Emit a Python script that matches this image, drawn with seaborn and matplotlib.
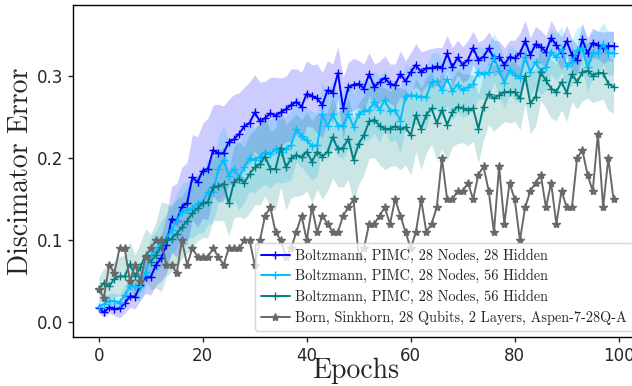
import matplotlib
matplotlib.use("Agg")
import matplotlib.pyplot as plt
import numpy as np
import seaborn as sns

# ─── Datos ───────────────────────────────────────────────────────────────────

EPOCHS = np.arange(100)

LABELS = [
    "Boltzmann, PIMC, 28 Nodes, 28 Hidden",
    "Boltzmann, PIMC, 28 Nodes, 56 Hidden",
    "Boltzmann, PIMC, 28 Nodes, 56 Hidden",
    "Born, Sinkhorn, 28 Qubits, 2 Layers, Aspen-7-28Q-A",
]
COLORS = ["#0000ff", "#00bfff", "#008080", "#696969"]

boltz_28h = [
    0.017, 0.012, 0.018, 0.016, 0.017, 0.023, 0.032, 0.031, 0.045, 0.055,
    0.055, 0.070, 0.078, 0.094, 0.126, 0.124, 0.141, 0.145, 0.177, 0.171,
    0.185, 0.187, 0.210, 0.206, 0.206, 0.220, 0.223, 0.230, 0.239, 0.243,
    0.256, 0.245, 0.249, 0.255, 0.252, 0.256, 0.260, 0.265, 0.269, 0.263,
    0.279, 0.276, 0.273, 0.265, 0.283, 0.280, 0.304, 0.261, 0.287, 0.290,
    0.291, 0.285, 0.303, 0.287, 0.293, 0.298, 0.291, 0.289, 0.303, 0.294,
    0.305, 0.314, 0.305, 0.310, 0.310, 0.312, 0.310, 0.328, 0.311, 0.323,
    0.314, 0.320, 0.335, 0.320, 0.324, 0.334, 0.322, 0.324, 0.314, 0.324,
    0.322, 0.328, 0.343, 0.326, 0.339, 0.336, 0.330, 0.347, 0.338, 0.328,
    0.343, 0.326, 0.320, 0.345, 0.328, 0.341, 0.338, 0.335, 0.337, 0.337,
]
boltz_28h_std = [
    0.006, 0.006, 0.007, 0.008, 0.012, 0.012, 0.014, 0.015, 0.018, 0.020,
    0.022, 0.025, 0.028, 0.035, 0.040, 0.045, 0.048, 0.050, 0.052, 0.055,
    0.058, 0.062, 0.055, 0.060, 0.058, 0.052, 0.055, 0.050, 0.048, 0.050,
    0.046, 0.048, 0.045, 0.044, 0.047, 0.042, 0.040, 0.044, 0.040, 0.042,
    0.040, 0.038, 0.042, 0.040, 0.036, 0.035, 0.032, 0.038, 0.030, 0.032,
    0.028, 0.030, 0.026, 0.028, 0.025, 0.027, 0.024, 0.026, 0.028, 0.025,
    0.024, 0.026, 0.025, 0.022, 0.024, 0.023, 0.025, 0.022, 0.024, 0.021,
    0.022, 0.024, 0.020, 0.022, 0.021, 0.020, 0.022, 0.019, 0.021, 0.020,
    0.022, 0.025, 0.025, 0.021, 0.022, 0.020, 0.019, 0.021, 0.018, 0.020,
    0.019, 0.020, 0.018, 0.020, 0.019, 0.018, 0.017, 0.019, 0.018, 0.018,
]

boltz_56h = [
    0.019, 0.022, 0.026, 0.026, 0.024, 0.033, 0.044, 0.044, 0.043, 0.061,
    0.082, 0.086, 0.096, 0.102, 0.112, 0.124, 0.135, 0.137, 0.139, 0.145,
    0.147, 0.159, 0.159, 0.187, 0.198, 0.179, 0.187, 0.177, 0.189, 0.200,
    0.198, 0.202, 0.208, 0.205, 0.211, 0.208, 0.211, 0.216, 0.236, 0.227,
    0.222, 0.215, 0.216, 0.254, 0.239, 0.254, 0.240, 0.240, 0.254, 0.238,
    0.254, 0.258, 0.259, 0.269, 0.259, 0.271, 0.258, 0.259, 0.246, 0.276,
    0.277, 0.276, 0.275, 0.275, 0.293, 0.294, 0.283, 0.297, 0.282, 0.290,
    0.283, 0.287, 0.291, 0.305, 0.303, 0.305, 0.323, 0.307, 0.292, 0.308,
    0.302, 0.298, 0.323, 0.305, 0.317, 0.307, 0.311, 0.330, 0.323, 0.333,
    0.313, 0.317, 0.332, 0.335, 0.311, 0.328, 0.328, 0.340, 0.328, 0.329,
]
boltz_56h_std = [
    0.008, 0.008, 0.009, 0.010, 0.010, 0.012, 0.014, 0.016, 0.018, 0.020,
    0.022, 0.025, 0.028, 0.030, 0.030, 0.032, 0.034, 0.035, 0.036, 0.036,
    0.038, 0.040, 0.038, 0.040, 0.042, 0.040, 0.038, 0.040, 0.042, 0.040,
    0.040, 0.038, 0.040, 0.042, 0.040, 0.038, 0.040, 0.042, 0.040, 0.038,
    0.040, 0.042, 0.038, 0.040, 0.042, 0.040, 0.038, 0.040, 0.042, 0.040,
    0.040, 0.038, 0.036, 0.038, 0.040, 0.036, 0.038, 0.036, 0.040, 0.038,
    0.036, 0.035, 0.036, 0.038, 0.034, 0.036, 0.035, 0.033, 0.035, 0.034,
    0.033, 0.034, 0.032, 0.033, 0.031, 0.032, 0.030, 0.032, 0.031, 0.030,
    0.031, 0.030, 0.028, 0.030, 0.029, 0.030, 0.028, 0.027, 0.029, 0.028,
    0.030, 0.028, 0.027, 0.028, 0.030, 0.028, 0.027, 0.026, 0.027, 0.026,
]

boltz_56h_b = [
    0.040, 0.048, 0.044, 0.053, 0.056, 0.056, 0.071, 0.056, 0.067, 0.082,
    0.074, 0.082, 0.092, 0.100, 0.102, 0.108, 0.116, 0.124, 0.133, 0.139,
    0.145, 0.147, 0.165, 0.166, 0.169, 0.145, 0.171, 0.175, 0.170, 0.181,
    0.189, 0.193, 0.202, 0.187, 0.187, 0.213, 0.189, 0.200, 0.204, 0.201,
    0.208, 0.196, 0.208, 0.202, 0.208, 0.226, 0.211, 0.213, 0.224, 0.198,
    0.218, 0.228, 0.245, 0.247, 0.240, 0.236, 0.236, 0.239, 0.236, 0.238,
    0.228, 0.253, 0.236, 0.253, 0.261, 0.243, 0.259, 0.241, 0.256, 0.263,
    0.261, 0.259, 0.261, 0.236, 0.263, 0.279, 0.273, 0.277, 0.281, 0.281,
    0.281, 0.273, 0.301, 0.267, 0.275, 0.305, 0.295, 0.285, 0.281, 0.293,
    0.280, 0.303, 0.293, 0.305, 0.307, 0.301, 0.304, 0.304, 0.291, 0.287,
]
boltz_56h_b_std = [
    0.015, 0.018, 0.020, 0.022, 0.024, 0.026, 0.028, 0.026, 0.030, 0.032,
    0.034, 0.040, 0.055, 0.045, 0.040, 0.042, 0.038, 0.040, 0.042, 0.040,
    0.042, 0.044, 0.040, 0.042, 0.045, 0.040, 0.044, 0.046, 0.044, 0.048,
    0.046, 0.050, 0.048, 0.046, 0.050, 0.048, 0.052, 0.048, 0.050, 0.046,
    0.048, 0.050, 0.046, 0.052, 0.048, 0.050, 0.046, 0.048, 0.050, 0.052,
    0.050, 0.048, 0.045, 0.046, 0.048, 0.050, 0.046, 0.048, 0.050, 0.046,
    0.048, 0.045, 0.050, 0.046, 0.044, 0.046, 0.048, 0.044, 0.042, 0.045,
    0.042, 0.044, 0.040, 0.042, 0.040, 0.038, 0.040, 0.038, 0.036, 0.038,
    0.036, 0.038, 0.035, 0.037, 0.036, 0.035, 0.034, 0.036, 0.035, 0.034,
    0.035, 0.034, 0.033, 0.035, 0.034, 0.033, 0.034, 0.032, 0.033, 0.032,
]

born_sinkhorn = [
    0.04, 0.03, 0.07, 0.06, 0.09, 0.09, 0.05, 0.07, 0.05, 0.08,
    0.09, 0.10, 0.10, 0.07, 0.07, 0.06, 0.10, 0.07, 0.09, 0.08,
    0.08, 0.08, 0.09, 0.08, 0.07, 0.09, 0.09, 0.09, 0.10, 0.10,
    0.07, 0.10, 0.13, 0.14, 0.11, 0.10, 0.08, 0.09, 0.11, 0.13,
    0.10, 0.14, 0.11, 0.13, 0.12, 0.11, 0.11, 0.13, 0.14, 0.15,
    0.08, 0.09, 0.12, 0.12, 0.13, 0.14, 0.12, 0.15, 0.13, 0.11,
    0.09, 0.11, 0.15, 0.11, 0.12, 0.14, 0.20, 0.15, 0.15, 0.16,
    0.16, 0.17, 0.15, 0.18, 0.19, 0.16, 0.11, 0.19, 0.12, 0.17,
    0.15, 0.10, 0.14, 0.16, 0.17, 0.18, 0.14, 0.17, 0.12, 0.16,
    0.14, 0.14, 0.20, 0.21, 0.18, 0.16, 0.23, 0.14, 0.20, 0.15,
]

SERIES = [
    (boltz_28h, boltz_28h_std),
    (boltz_56h, boltz_56h_std),
    (boltz_56h_b, boltz_56h_b_std),
    (born_sinkhorn, None),
]

# ─── Gráfico ─────────────────────────────────────────────────────────────────

sns.set_style("ticks")
plt.rcParams.update({"font.family": ["DejaVu Sans"], "axes.linewidth": 1.0})

fig = plt.figure(figsize=(6.32, 3.86), dpi=100)
ax = fig.add_axes([0.1155, 0.127, 0.896, 0.860])

for (vals, std), color, label in zip(SERIES, COLORS, LABELS):
    vals = np.asarray(vals)
    marker = "+" if std is not None else "*"
    sns.lineplot(
        x=EPOCHS, y=vals, ax=ax, color=color, label=label,
        marker=marker, markersize=6, markeredgecolor=color,
        markeredgewidth=1.0, linewidth=1.4,
    )
    if std is not None:
        std = np.asarray(std)
        ax.fill_between(EPOCHS, vals - std, vals + std, color=color, alpha=0.2, linewidth=0)

ax.set_xlim(-4.95, 103.95)
ax.set_ylim(-0.018, 0.387)
ax.set_xticks([0, 20, 40, 60, 80, 100])
ax.set_yticks([0.0, 0.1, 0.2, 0.3])
ax.tick_params(labelsize=12, direction="out", length=3.5, width=1)
for spine in ax.spines.values():
    spine.set_visible(True)
    spine.set_color("black")

ax.set_xlabel("Epochs", family="cmr10", fontsize=20, labelpad=-5)
ax.set_ylabel("Discimator Error", family="cmr10", fontsize=20, labelpad=2)
ax.legend(loc="lower right", prop={"family": "cmr10", "size": 10.3},
          handlelength=2.0, handletextpad=0.4, labelspacing=0.45,
          borderaxespad=0.45, framealpha=0.8)

fig.savefig("out.png", dpi=100)
plt.close(fig)
